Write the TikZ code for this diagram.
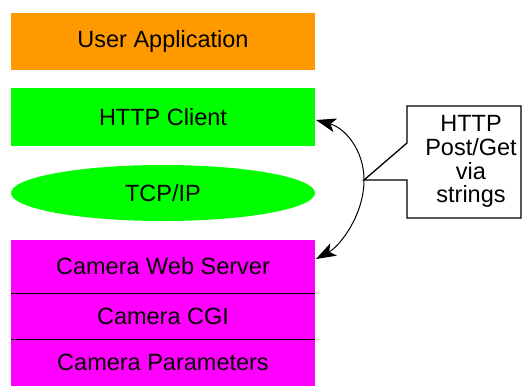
\documentclass[tikz,border=0pt]{standalone}
\usepackage{fontspec}
\setmainfont{Liberation Sans}
\usetikzlibrary{shapes.geometric,arrows.meta}
\definecolor{orangeA}{RGB}{255,153,0}
\definecolor{greenA}{RGB}{0,255,0}
\definecolor{magA}{RGB}{255,0,255}
\begin{document}
\begin{tikzpicture}[x=1pt,y=-1pt,
  txt/.style={font=\fontsize{23.5}{23.7}\selectfont},
  layer/.style={txt,minimum width=304pt,inner sep=0pt},
  arr/.style={-{Stealth[length=20pt,width=14pt,inset=5pt]},line width=1pt}]
\useasboundingbox (0,0) rectangle (524,386);
\node[layer,fill=orangeA,minimum height=57pt] (ua) at (163,41.5) {User Application};
\node[layer,fill=greenA,minimum height=58pt] (hc) at (163,117) {HTTP Client};
\node[ellipse,fill=greenA,minimum width=304pt,minimum height=56pt,inner sep=0pt,txt] (tcp) at (163,193) {TCP/IP};
\node[layer,fill=magA,minimum height=53pt] (ws) at (163,266.5) {Camera Web Server};
\node[layer,fill=magA,minimum height=46pt] (cgi) at (163,316) {Camera CGI};
\node[layer,fill=magA,minimum height=47pt] (cp) at (163,362.5) {Camera Parameters};
\draw[line width=1.2pt] (ws.south west) -- (ws.south east);
\draw[line width=1.2pt] (cgi.south west) -- (cgi.south east);
\coordinate (tip) at (364,180);
\draw[line width=1.3pt,fill=white] (407,143) -- (tip) -- (407,180) -- (407,218) -- (521,218) -- (521,106) -- (407,106) -- cycle;
\node[align=center,txt,inner sep=0pt] (cl) at (471,161.5) {HTTP\\Post/Get\\via\\strings};
\coordinate (top) at (316,120);
\coordinate (bot) at (316,259);
\draw[arr] (tip) .. controls (364,150) and (345,128) .. (top);
\draw[arr] (tip) .. controls (364,215) and (340,246) .. (bot);
\end{tikzpicture}
\end{document}
